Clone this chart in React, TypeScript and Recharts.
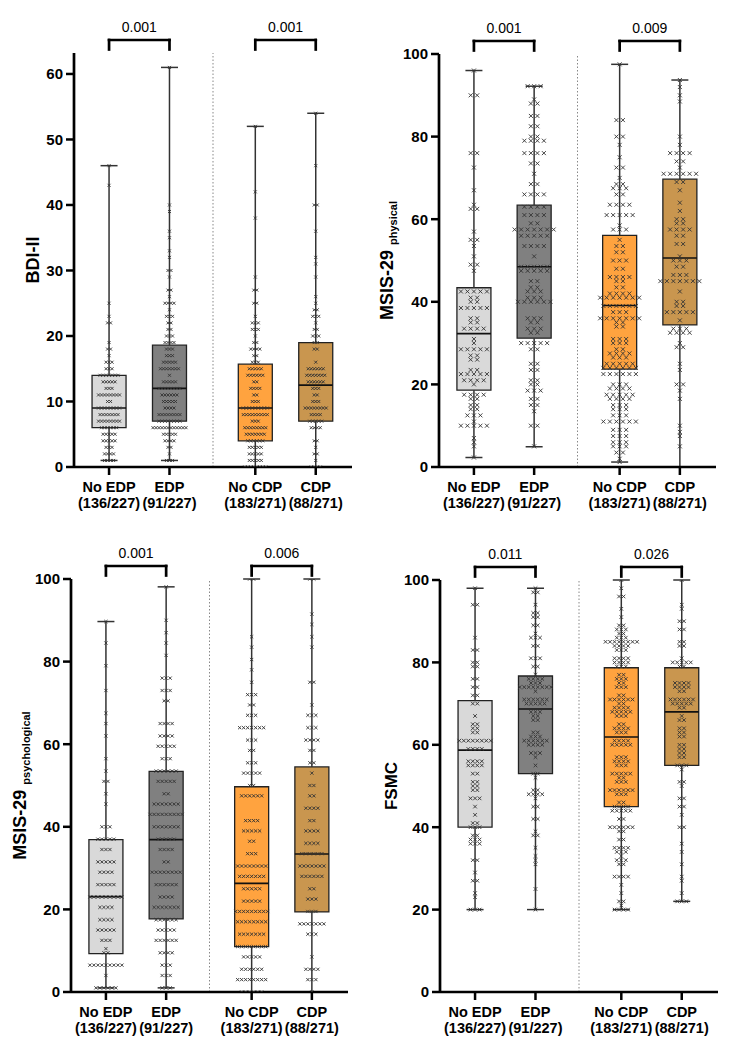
import React from 'react';
import { ComposedChart, XAxis, YAxis, Scatter, ReferenceArea, ReferenceLine } from 'recharts';

const FONT = "Arial, 'Liberation Sans', Helvetica, sans-serif";

// groups shared by all four panels
const groupLabels = ['No EDP', 'EDP', 'No CDP', 'CDP'];
const groupCounts = ['(136/227)', '(91/227)', '(183/271)', '(88/271)'];
const groupPos = [0.58, 1.58, 3.0, 4.0];
const boxFills = ['#d9d9d9', '#808080', '#ffa33f', '#c9964f'];
const X_MAX = 4.6;
const SEPARATOR = 2.3;

// ---- BDI-II ----
const bdiMin = [1, 1, 0, 0];
const bdiQ1 = [6, 7, 4, 7];
const bdiMed = [9, 12, 9, 12.5];
const bdiQ3 = [14, 18.6, 15.7, 19];
const bdiMax = [46, 61, 52, 54];
const bdiP = ['0.001', '0.001'];
const bdiTicks = [0, 10, 20, 30, 40, 50, 60];
// [value, number of markers at that value]
const bdiNoEdp = [[46,1],[43,1],[25,1],[23,1],[22,2],[19,1],[18,2],[17,1],[16,3],[15,3],[14,7],[13,5],[12,3],[11,8],[10,2],[9,8],[8,7],[7,8],[6,6],[5,5],[4,5],[3,3],[2,4],[1,4]];
const bdiEdp = [[61,1],[40,1],[39,1],[36,1],[35,1],[33,1],[32,1],[30,2],[29,1],[27,2],[26,1],[25,4],[24,1],[23,3],[22,2],[21,2],[20,3],[19,4],[18,3],[17,3],[16,5],[15,7],[14,1],[13,5],[12,8],[11,6],[10,5],[9,4],[8,8],[7,8],[6,12],[5,5],[4,4],[3,2],[2,1],[1,3]];
const bdiNoCdp = [[52,1],[42,1],[38,1],[29,1],[27,2],[25,2],[23,1],[22,3],[21,3],[20,1],[19,2],[18,4],[17,2],[16,3],[15,5],[14,6],[13,2],[12,4],[11,2],[10,3],[9,9],[8,9],[7,3],[6,8],[5,7],[4,6],[3,5],[2,5],[1,5],[0,8]];
const bdiCdp = [[54,1],[46,1],[40,2],[36,1],[32,1],[31,1],[29,1],[26,1],[25,1],[24,2],[23,3],[22,1],[21,2],[20,3],[19,2],[18,2],[16,1],[15,6],[14,7],[13,6],[12,3],[11,2],[10,3],[9,8],[8,4],[7,5],[6,4],[4,2],[3,1],[2,2],[1,1],[0,4]];

// ---- MSIS-29 physical ----
const physMin = [2.3, 4.9, 1.2, 0];
const physQ1 = [18.6, 31.2, 23.7, 34.4];
const physMed = [32.3, 48.5, 39.1, 50.6];
const physQ3 = [43.4, 63.4, 56.1, 69.7];
const physMax = [96, 92.2, 97.5, 93.7];
const physP = ['0.001', '0.009'];
const pctTicks = [0, 20, 40, 60, 80, 100];
const physNoEdp = [[96,1],[90,2],[76,2],[72.5,1],[67,1],[63.5,1],[62.5,2],[57,1],[55,2],[53.5,1],[51,1],[49,2],[47.5,1],[42.5,5],[41,2],[40,2],[38.5,5],[36,2],[35,2],[33.5,4],[31,1],[30,1],[28.5,5],[27,2],[26,2],[23.5,2],[22.5,5],[21,4],[20,1],[17.5,4],[16.5,2],[15,2],[14,2],[12.5,3],[11,1],[10,5],[7,1],[6,1],[5,1],[2.3,1]];
const physEdp = [[92.2,3],[89,1],[88,2],[85,2],[82.5,2],[80,2],[79,4],[76,4],[73.5,2],[71,1],[68.5,2],[66,4],[63,4],[61,4],[59,2],[57.5,7],[56,5],[53.5,4],[51,1],[48.5,5],[47.5,5],[45,2],[43.5,2],[42.5,3],[41,3],[40,6],[36,3],[35,2],[33.5,3],[32.5,2],[30,5],[28.5,2],[25,2],[23.5,2],[21,2],[20,2],[18.5,3],[16.5,2],[15,2],[13.5,1],[10,2],[5,1]];
const physNoCdp = [[97.5,1],[84,2],[80,2],[78,1],[75,1],[72.5,2],[70,1],[68.5,2],[67.5,3],[66,2],[63.5,4],[61,5],[58.5,1],[57.5,3],[55,1],[53.5,2],[52,2],[50,3],[48,2],[46,4],[45,2],[43.5,2],[42,4],[41,7],[39,6],[37.5,3],[36,7],[35,2],[34,2],[31,3],[30,3],[28.5,2],[27.5,4],[26.5,3],[25,5],[24,6],[22.5,6],[20,3],[19,4],[17.5,5],[16.5,4],[15,3],[14,3],[12.5,3],[11,6],[9,3],[7.5,3],[6,3],[5,3],[3.5,2],[2,1],[1.2,1]];
const physCdp = [[93.7,1],[92,1],[90,1],[88.5,1],[80,1],[78,1],[76,4],[74,2],[72.5,1],[71,6],[69,2],[67,1],[64,1],[62,1],[60,2],[59,2],[57.5,4],[56,2],[54,2],[51,1],[50,3],[48.5,2],[46.5,3],[45,7],[42.5,1],[40,2],[39,2],[37.5,5],[35.5,1],[33.5,3],[32.5,4],[30,1],[29,2],[25,1],[23.5,1],[20,2],[18.5,1],[16.5,1],[10,1],[8.5,1],[7.5,1],[5,1]];

// ---- MSIS-29 psychological ----
const psyMin = [1, 1, 0, 0];
const psyQ1 = [9.3, 17.7, 11, 19.4];
const psyMed = [23.1, 36.9, 26.3, 33.4];
const psyQ3 = [36.9, 53.4, 49.7, 54.5];
const psyMax = [89.7, 98.1, 100, 100];
const psyP = ['0.001', '0.006'];
const psyNoEdp = [[89.7,1],[84.5,1],[79,1],[73,1],[67.5,1],[65,1],[62,1],[56.5,1],[53.5,1],[51,2],[48,1],[45.5,1],[40,3],[37,5],[34.5,3],[31.5,5],[29,4],[26,5],[23,9],[20.5,4],[17.5,4],[15,5],[12.5,3],[10.5,1],[9.5,2],[6.5,9],[4,1],[1,6]];
const psyEdp = [[98.1,1],[90,1],[87,1],[84.5,1],[81.5,1],[76,3],[73,3],[70.5,2],[65,4],[62,4],[59.5,5],[56.5,3],[53.5,6],[51,5],[48,2],[45.5,7],[43,9],[40,7],[37,5],[34.5,4],[31.5,2],[29,8],[26,6],[23,4],[20.5,7],[17.5,6],[15,5],[12.5,6],[9.5,4],[6.5,3],[4,3],[1,3]];
const psyNoCdp = [[100,2],[86,1],[83.5,1],[80.5,1],[78,1],[75,1],[72,3],[69.5,2],[67,3],[64,7],[61,3],[58.5,2],[55.5,3],[53,5],[50,2],[47.5,6],[41.5,4],[39,5],[36.5,2],[33.5,3],[30.5,8],[28,7],[25,5],[22,5],[19.5,9],[17,8],[14,7],[11,8],[8.5,5],[5.5,6],[3,8],[0,6]];
const psyCdp = [[100,2],[91.5,1],[89,1],[86,1],[83.5,1],[75,2],[69.5,1],[67,3],[64,3],[61,4],[58.5,2],[55.5,2],[53,1],[50,2],[47.5,2],[44.5,4],[41.5,2],[39,4],[36,4],[33.5,6],[30.5,7],[28,6],[25,2],[22.5,3],[19.5,3],[16.5,7],[14,3],[8.5,1],[5.5,4],[3,3],[0,1]];

// ---- FSMC ----
const fsmcMin = [20, 20, 20, 22];
const fsmcQ1 = [40, 53, 45, 55];
const fsmcMed = [58.7, 68.7, 61.9, 68];
const fsmcQ3 = [70.7, 76.7, 78.7, 78.7];
const fsmcMax = [98, 98, 100, 100];
const fsmcP = ['0.011', '0.026'];
const fsmcNoEdp = [[98,1],[94,2],[86,1],[83,2],[80,2],[79,2],[76,2],[74,2],[72,2],[70,2],[67,1],[65,2],[64,2],[63,2],[61,8],[59,4],[56,4],[55,4],[53,2],[51,2],[50,2],[49,2],[47,3],[45,1],[43,1],[41,2],[40,3],[38,2],[37,3],[36,3],[32,2],[29,1],[27,2],[24,1],[23,1],[20,3]];
const fsmcEdp = [[98,1],[97,2],[94,1],[92,2],[91,2],[89,2],[87,1],[86,3],[84,2],[81,3],[79,2],[77,1],[76,4],[75,3],[74,8],[73,1],[71,6],[70,5],[68,3],[67,2],[66,2],[63,2],[62,3],[61,6],[60,4],[58,3],[57,1],[55,1],[53,2],[52,1],[49,2],[48,4],[47,1],[45,2],[42,2],[39,1],[38,2],[35,1],[33,1],[32,1],[31,1],[25,1],[20,1]];
const fsmcNoCdp = [[100,1],[98,1],[96,2],[93,1],[91,1],[89,2],[88,3],[87,2],[86,3],[85,8],[84,4],[83,3],[81,4],[80,4],[79,3],[77,2],[76,3],[75,2],[74,3],[72,2],[71,6],[70,2],[69,4],[68,5],[67,3],[65,2],[64,4],[63,3],[61,4],[60,5],[57,3],[56,4],[55,3],[53,5],[52,2],[51,3],[49,6],[48,3],[46,2],[45,4],[44,5],[42,2],[40,6],[39,2],[37,2],[35,4],[34,3],[33,1],[32,3],[31,2],[28,4],[26,1],[24,1],[22,2],[21,1],[20,4]];
const fsmcCdp = [[100,1],[94,1],[93,1],[90,2],[88,2],[85,2],[84,2],[81,1],[80,5],[79,2],[75,4],[74,4],[73,2],[71,6],[70,5],[69,2],[67,1],[66,2],[64,2],[63,2],[62,2],[60,2],[59,2],[58,2],[57,2],[55,3],[54,1],[51,2],[50,1],[47,2],[45,2],[43,1],[40,2],[36,1],[34,1],[31,1],[28,1],[27,1],[24,1],[22,3]];

const XTick = (props: any) => {
  const { x, y, index } = props;
  return (
    <text x={x} y={y} textAnchor="middle" fill="#000" fontSize={14.5} fontWeight={700} fontFamily={FONT}>
      <tspan x={x} dy={15}>{groupLabels[index]}</tspan>
      <tspan x={x} dy={16}>{groupCounts[index]}</tspan>
    </text>
  );
};

interface PanelProps {
  left: number;
  top: number;
  plot: { l: number; r: number; t: number; b: number };
  title: string;
  sub?: string;
  titleSize: number;
  labelX: number;
  yMax: number;
  yTicks: number[];
  mins: number[];
  q1s: number[];
  meds: number[];
  q3s: number[];
  maxs: number[];
  points: number[][][];
  pValues: string[];
  stepPx: number;
  crossPx: number;
}

const W = 366;
const H = 525;

const Panel: React.FC<PanelProps> = (p) => {
  const plotW = p.plot.r - p.plot.l;
  const plotH = p.plot.b - p.plot.t;
  const xUnit = plotW / X_MAX; // px per x unit
  const yUnit = plotH / p.yMax; // px per y unit
  const bw = 17 / xUnit;
  const cw = 8.5 / xUnit;
  const step = p.stepPx / xUnit;
  const bracketY = p.yMax + 13 / yUnit;
  const legY = p.yMax + 3.5 / yUnit;

  const pts = p.points.flatMap((rows, g) =>
    rows.flatMap(([v, n]) =>
      Array.from({ length: n }, (_, i) => ({ x: groupPos[g] + (i - (n - 1) / 2) * step, y: v }))
    )
  );

  const cross = (s: any) => {
    const { cx, cy } = s;
    const r = p.crossPx;
    return (
      <g stroke="#333" strokeWidth={0.9}>
        <line x1={cx - r} y1={cy - r} x2={cx + r} y2={cy + r} />
        <line x1={cx - r} y1={cy + r} x2={cx + r} y2={cy - r} />
      </g>
    );
  };

  const yLabel = () => {
    const cy = p.plot.t + plotH / 2;
    return (
      <text
        x={p.labelX}
        y={cy}
        transform={`rotate(-90 ${p.labelX} ${cy})`}
        textAnchor="middle"
        fill="#000"
        fontFamily={FONT}
        fontWeight={700}
        fontSize={p.titleSize}
      >
        <tspan>{p.title}</tspan>
        {p.sub && <tspan fontSize={11} dx={5} dy={4}>{p.sub}</tspan>}
      </text>
    );
  };

  const lineStyle = { stroke: '#000', strokeWidth: 2.7 };
  const yAxisW = 60;

  return (
    <div style={{ position: 'absolute', left: p.left, top: p.top, width: W, height: H }}>
      <ComposedChart
        width={W}
        height={H}
        margin={{ top: p.plot.t, right: W - p.plot.r, bottom: H - p.plot.b - 50, left: p.plot.l - yAxisW }}
      >
        <XAxis
          type="number"
          dataKey="x"
          domain={[0, X_MAX]}
          ticks={groupPos}
          interval={0}
          allowDataOverflow
          height={50}
          tickSize={8}
          tick={<XTick />}
          axisLine={lineStyle}
          tickLine={{ stroke: '#000', strokeWidth: 2.5 }}
        />
        <YAxis
          type="number"
          domain={[0, p.yMax]}
          ticks={p.yTicks}
          interval={0}
          allowDataOverflow
          width={yAxisW}
          tickSize={8}
          tickMargin={3}
          tick={{ fill: '#000', fontSize: 15, fontWeight: 700, fontFamily: FONT }}
          axisLine={lineStyle}
          tickLine={{ stroke: '#000', strokeWidth: 2.5 }}
          label={{ content: yLabel }}
        />
        <ReferenceLine x={SEPARATOR} stroke="#888" strokeWidth={1} strokeDasharray="1.5 2" />
        {groupPos.map((x, g) => (
          <ReferenceArea
            key={'box' + g}
            x1={x - bw}
            x2={x + bw}
            y1={p.q1s[g]}
            y2={p.q3s[g]}
            fill={boxFills[g]}
            fillOpacity={1}
            stroke="#222"
            strokeWidth={1.3}
            ifOverflow="visible"
          />
        ))}
        {groupPos.map((x, g) => (
          <ReferenceLine key={'wu' + g} segment={[{ x, y: p.q3s[g] }, { x, y: p.maxs[g] }]} stroke="#333" strokeWidth={1.5} ifOverflow="visible" />
        ))}
        {groupPos.map((x, g) => (
          <ReferenceLine key={'wl' + g} segment={[{ x, y: p.mins[g] }, { x, y: p.q1s[g] }]} stroke="#333" strokeWidth={1.5} ifOverflow="visible" />
        ))}
        {groupPos.map((x, g) => (
          <ReferenceLine key={'cu' + g} segment={[{ x: x - cw, y: p.maxs[g] }, { x: x + cw, y: p.maxs[g] }]} stroke="#333" strokeWidth={1.5} ifOverflow="visible" />
        ))}
        {groupPos.map((x, g) => (
          <ReferenceLine key={'cl' + g} segment={[{ x: x - cw, y: p.mins[g] }, { x: x + cw, y: p.mins[g] }]} stroke="#333" strokeWidth={1.5} ifOverflow="visible" />
        ))}
        <Scatter data={pts} dataKey="y" isAnimationActive={false} shape={cross} />
        {groupPos.map((x, g) => (
          <ReferenceLine key={'md' + g} segment={[{ x: x - bw, y: p.meds[g] }, { x: x + bw, y: p.meds[g] }]} stroke="#111" strokeWidth={1.6} ifOverflow="visible" />
        ))}
        {[0, 1].map((k) => {
          const a = groupPos[k * 2];
          const b = groupPos[k * 2 + 1];
          return (
            <React.Fragment key={'br' + k}>
              <ReferenceLine
                segment={[{ x: a, y: bracketY }, { x: b, y: bracketY }]}
                stroke="#000"
                strokeWidth={2.7}
                strokeLinecap="square"
                ifOverflow="visible"
                label={{ value: p.pValues[k], position: 'top', offset: 8, fill: '#000', fontSize: 14, fontFamily: FONT }}
              />
              <ReferenceLine segment={[{ x: a, y: bracketY }, { x: a, y: legY }]} stroke="#000" strokeWidth={2.7} strokeLinecap="square" ifOverflow="visible" />
              <ReferenceLine segment={[{ x: b, y: bracketY }, { x: b, y: legY }]} stroke="#000" strokeWidth={2.7} strokeLinecap="square" ifOverflow="visible" />
            </React.Fragment>
          );
        })}
      </ComposedChart>
    </div>
  );
};

export default function App() {
  return (
    <div style={{ position: 'absolute', left: 0, top: 0, width: 733, height: 1050, background: '#fff' }}>
      <Panel
        left={0} top={0}
        plot={{ l: 74, r: 352, t: 53, b: 467 }}
        title="BDI-II" titleSize={18} labelX={39}
        yMax={63.2} yTicks={bdiTicks}
        mins={bdiMin} q1s={bdiQ1} meds={bdiMed} q3s={bdiQ3} maxs={bdiMax}
        points={[bdiNoEdp, bdiEdp, bdiNoCdp, bdiCdp]}
        pValues={bdiP} stepPx={3} crossPx={1.5}
      />
      <Panel
        left={366} top={0}
        plot={{ l: 73, r: 350, t: 54, b: 467 }}
        title="MSIS-29" sub="physical" titleSize={18} labelX={27}
        yMax={100} yTicks={pctTicks}
        mins={physMin} q1s={physQ1} meds={physMed} q3s={physQ3} maxs={physMax}
        points={[physNoEdp, physEdp, physNoCdp, physCdp]}
        pValues={physP} stepPx={6.5} crossPx={2}
      />
      <Panel
        left={0} top={525}
        plot={{ l: 71, r: 348, t: 54, b: 467 }}
        title="MSIS-29" sub="psychological" titleSize={18} labelX={26}
        yMax={100} yTicks={pctTicks}
        mins={psyMin} q1s={psyQ1} meds={psyMed} q3s={psyQ3} maxs={psyMax}
        points={[psyNoEdp, psyEdp, psyNoCdp, psyCdp]}
        pValues={psyP} stepPx={4} crossPx={1.6}
      />
      <Panel
        left={366} top={525}
        plot={{ l: 74, r: 352, t: 55, b: 467 }}
        title="FSMC" titleSize={17} labelX={31}
        yMax={100} yTicks={pctTicks}
        mins={fsmcMin} q1s={fsmcQ1} meds={fsmcMed} q3s={fsmcQ3} maxs={fsmcMax}
        points={[fsmcNoEdp, fsmcEdp, fsmcNoCdp, fsmcCdp]}
        pValues={fsmcP} stepPx={4.5} crossPx={1.8}
      />
    </div>
  );
}
